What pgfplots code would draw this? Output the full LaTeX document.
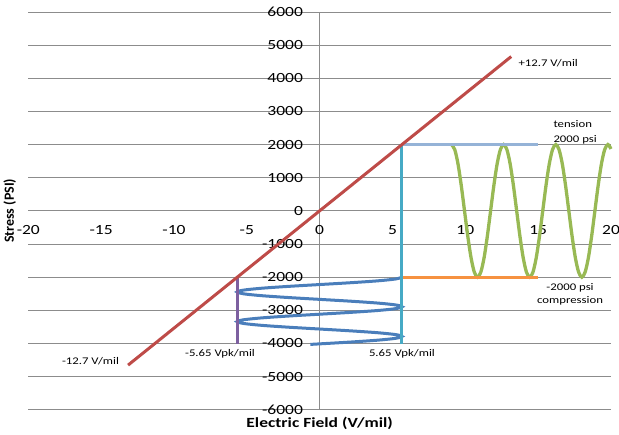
\documentclass[border=0pt]{standalone}
\usepackage{fontspec}
\setmainfont{Carlito}[FakeStretch=1.25]
\newfontfamily\rotfont{Carlito}
\usepackage{pgfplots}
\pgfplotsset{compat=1.18}
\definecolor{gridgrey}{HTML}{8C8C8C}
\definecolor{cred}{HTML}{BE4B48}
\definecolor{cgreen}{HTML}{98B954}
\definecolor{cblue}{HTML}{4A7EBB}
\definecolor{cpurple}{HTML}{7D60A0}
\definecolor{cteal}{HTML}{46AAC5}
\definecolor{corange}{HTML}{F69240}
\definecolor{clight}{HTML}{95B3D7}
\newcommand\annfont{\fontsize{10.2}{12}\selectfont}
\begin{document}
\begin{tikzpicture}
\begin{axis}[
  scale only axis, width=582.7pt, height=397.7pt,
  xmin=-20, xmax=20, ymin=-6000, ymax=6000,
  enlargelimits=false, clip=false,
  axis lines=middle,
  hide obscured x ticks=false, hide obscured y ticks=false,
  axis line style={-, draw=gridgrey, line width=0.9pt},
  every inner x axis line/.append style={-},
  every inner y axis line/.append style={-},
  xtick={-20,-15,-10,-5,0,5,10,15,20},
  xticklabels={-20,-15,-10,-5,0,5,10,15,20},
  ytick={-6000,-5000,-4000,-3000,-2000,-1000,0,1000,2000,3000,4000,5000,6000},
  yticklabels={-6000,-5000,-4000,-3000,-2000,-1000,0,1000,2000,3000,4000,5000,6000},
  ymajorgrids, major grid style={gridgrey, line width=0.9pt},
  major tick length=0pt,
  /pgf/number format/assume math mode=true,
  tick label style={font=\fontsize{14}{16}\selectfont},
  xticklabel style={inner sep=0pt, anchor=north, yshift=-14.2pt},
  yticklabel style={inner sep=0pt, anchor=east, xshift=-16.5pt},
  every axis x label/.style={at={(axis description cs:0.5,0)}, anchor=base, inner sep=0pt, yshift=-17.5pt, font=\bfseries\fontsize{14}{16}\selectfont},
  every axis y label/.style={at={(axis description cs:0,0.5)}, xshift=-14.3pt, rotate=90, anchor=base, inner sep=0pt, font=\rotfont\bfseries\fontsize{14}{16}\selectfont},
  xlabel={Electric Field (V/mil)},
  ylabel={Stress (PSI)},
]
% blue sine (vertical oscillation between -5.65 and 5.65)
\addplot[cblue, line width=3pt, smooth] coordinates {
(5.65,-2000) (5.220,-2055.9) (3.995,-2111.9) (2.162,-2167.8) (0,-2223.8)
(-2.162,-2279.7) (-3.995,-2335.6) (-5.220,-2391.6) (-5.65,-2447.5)
(-5.220,-2503.4) (-3.995,-2559.4) (-2.162,-2615.3) (0,-2671.3)
(2.162,-2727.2) (3.995,-2783.1) (5.220,-2839.1) (5.65,-2895)
(5.220,-2950.9) (3.995,-3006.9) (2.162,-3062.8) (0,-3118.8)
(-2.162,-3174.7) (-3.995,-3230.6) (-5.220,-3286.6) (-5.65,-3342.5)
(-5.220,-3398.4) (-3.995,-3454.4) (-2.162,-3510.3) (0,-3566.3)
(2.162,-3622.2) (3.995,-3678.1) (5.220,-3734.1) (5.65,-3790)
(5.220,-3845.9) (3.995,-3901.9) (2.162,-3957.8) (0,-4013.8) (-0.64,-4030)
};
% green sine
\addplot[cgreen, line width=3.3pt, smooth] coordinates {
(9.050,2000) (9.274,1848) (9.498,1414) (9.721,765) (9.945,0)
(10.169,-765) (10.393,-1414) (10.616,-1848) (10.840,-2000)
(11.064,-1848) (11.288,-1414) (11.511,-765) (11.735,0)
(11.959,765) (12.183,1414) (12.406,1848) (12.630,2000)
(12.854,1848) (13.078,1414) (13.301,765) (13.525,0)
(13.749,-765) (13.973,-1414) (14.196,-1848) (14.420,-2000)
(14.644,-1848) (14.868,-1414) (15.091,-765) (15.315,0)
(15.539,765) (15.763,1414) (15.986,1848) (16.210,2000)
(16.434,1848) (16.658,1414) (16.881,765) (17.105,0)
(17.329,-765) (17.553,-1414) (17.776,-1848) (18.000,-2000)
(18.224,-1848) (18.448,-1414) (18.671,-765) (18.895,0)
(19.119,765) (19.343,1414) (19.566,1848) (19.790,2000) (20.000,1866)
};
\addplot[clight, line width=3pt] coordinates {(5.65,2000) (15,2000)};
\addplot[corange, line width=3pt] coordinates {(5.65,-2000) (15,-2000)};
\addplot[cteal, line width=3pt] coordinates {(5.65,2000) (5.65,-4030)};
\addplot[cpurple, line width=3pt] coordinates {(-5.65,-2000) (-5.65,-4030)};
\addplot[cred, line width=3pt] coordinates {(-13.15,-4655) (13.15,4655)};
% annotations
\node[anchor=west, font=\annfont] at (axis cs:13.41,4461) {+12.7 V/mil};
\node[anchor=base west, inner sep=0pt, font=\annfont] at (axis cs:16.04,2500) {tension};
\node[anchor=base west, inner sep=0pt, font=\annfont] at (axis cs:16.04,2062) {2000 psi};
\node[anchor=base, inner sep=0pt, font=\annfont] at (axis cs:17.19,-2409) {-2000 psi};
\node[anchor=base, inner sep=0pt, font=\annfont] at (axis cs:17.19,-2795) {compression};
\node[anchor=base, inner sep=0pt, font=\annfont] at (axis cs:5.65,-4400) {5.65 Vpk/mil};
\node[anchor=base, inner sep=0pt, font=\annfont] at (axis cs:-6.84,-4380) {-5.65 Vpk/mil};
\node[anchor=base, inner sep=0pt, font=\annfont] at (axis cs:-15.73,-4630) {-12.7 V/mil};
\end{axis}
\pgfresetboundingbox
\path (-28.3pt,-25.3pt) rectangle (590.7pt,409.7pt);
\end{tikzpicture}
\end{document}
